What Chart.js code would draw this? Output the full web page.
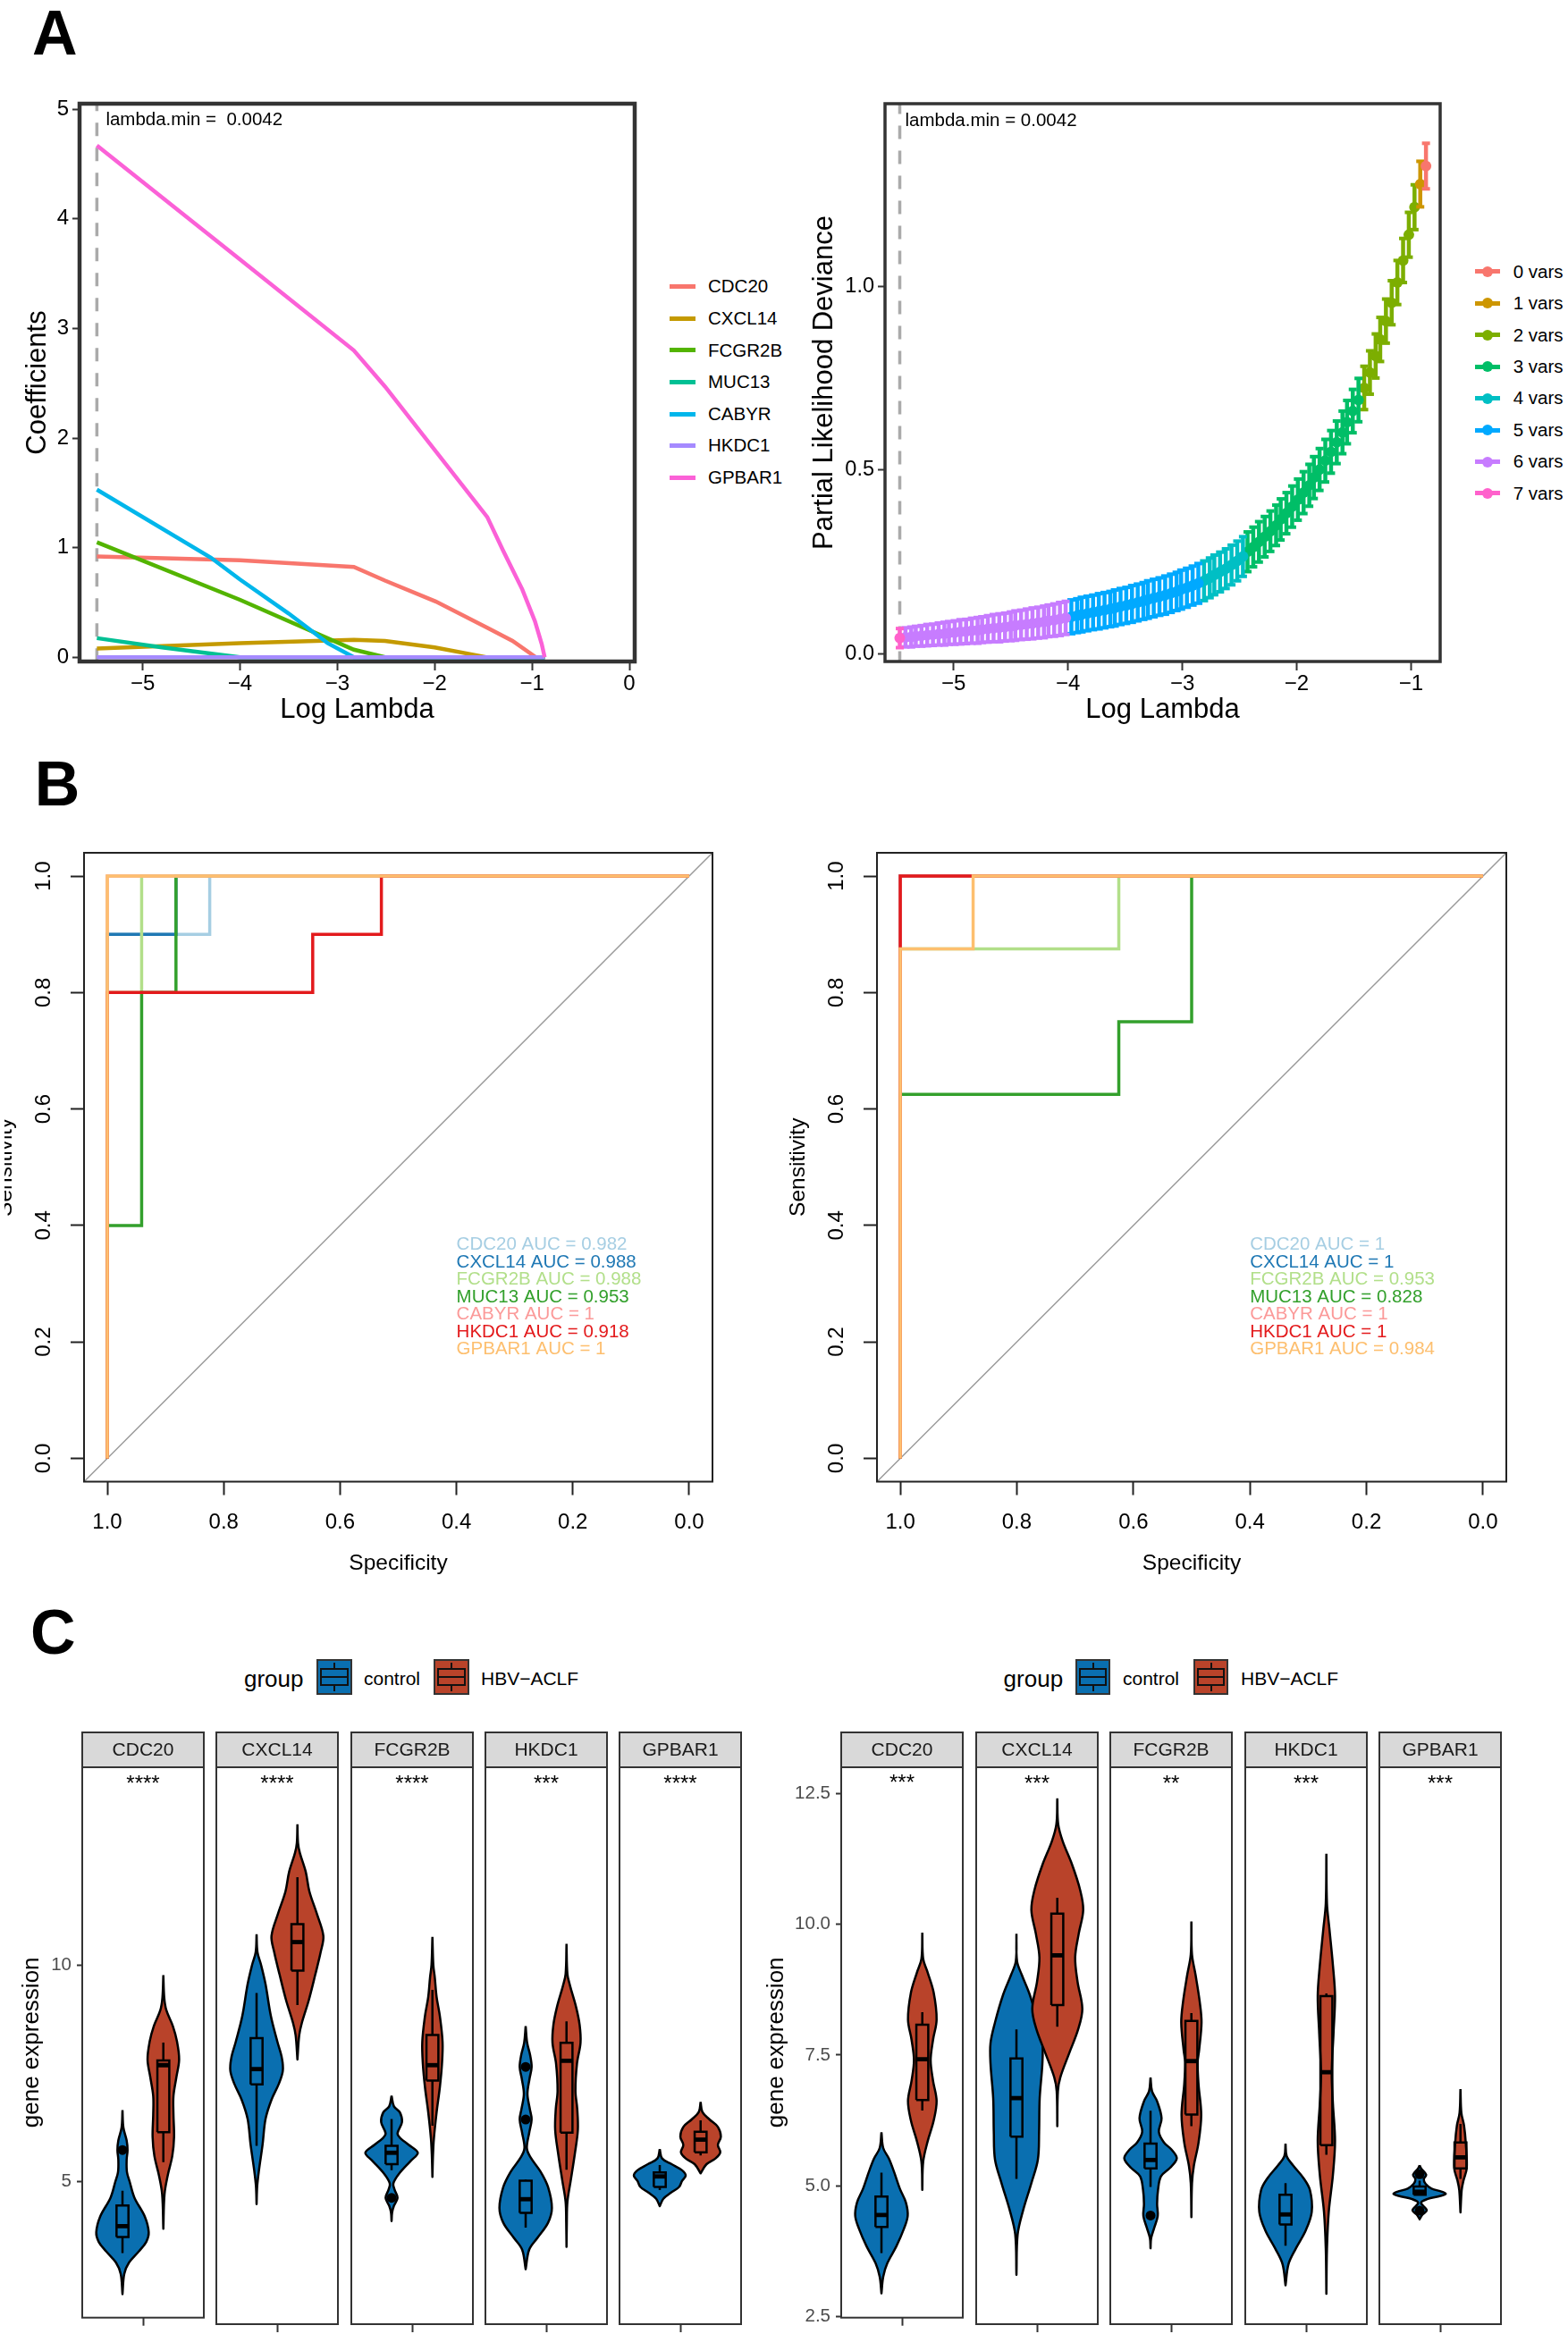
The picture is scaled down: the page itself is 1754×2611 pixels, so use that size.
<!DOCTYPE html>
<html>
<head>
<meta charset="utf-8">
<title>Gene signature panels</title>
<script src="https://cdn.jsdelivr.net/npm/chart.js@4/dist/chart.umd.js"></script>
<style>
html, body { margin: 0; background: #fff; }
#page { position: relative; width: 1754px; height: 2611px; overflow: hidden; background: #fff;
  font-family: "Liberation Sans", Arial, sans-serif; color: #000; }
canvas { position: absolute; }
.txt { position: absolute; white-space: pre; line-height: 1; }
.shape { position: absolute; box-sizing: border-box; }
</style>
</head>
<body>
<div id="page"></div>
<script>
// ---- Panel A, coefficient paths
var coefGenes = ["CDC20", "CXCL14", "FCGR2B", "MUC13", "CABYR", "HKDC1", "GPBAR1"];
var coefColors = ["#F8766D", "#C49A00", "#53B400", "#00C094", "#00B6EB", "#A58AFF", "#FB61D7"];
var cdc20CoefX = [-5.47, -4, -2.83, -2.51, -1.99, -1.46, -1.2, -0.96, -0.87];
var cdc20CoefY = [0.92, 0.885, 0.825, 0.7, 0.51, 0.27, 0.15, 0, 0];
var cxcl14CoefX = [-5.47, -4, -2.83, -2.51, -2, -1.46, -0.87];
var cxcl14CoefY = [0.08, 0.13, 0.16, 0.15, 0.09, 0, 0];
var fcgr2bCoefX = [-5.47, -4, -2.83, -2.5, -0.87];
var fcgr2bCoefY = [1.05, 0.525, 0.07, 0, 0];
var muc13CoefX = [-5.47, -4.8, -4, -0.87];
var muc13CoefY = [0.175, 0.09, 0, 0];
var cabyrCoefX = [-5.47, -4.3, -4, -3.5, -3.1, -2.83, -0.87];
var cabyrCoefY = [1.53, 0.91, 0.71, 0.4, 0.13, 0, 0];
var hkdc1CoefX = [-5.47, -0.87];
var hkdc1CoefY = [0, 0];
var gpbar1CoefX = [-5.47, -4, -2.83, -2.51, -1.46, -1.3, -1.1, -0.97, -0.9, -0.87];
var gpbar1CoefY = [4.67, 3.63, 2.8, 2.47, 1.28, 0.98, 0.62, 0.33, 0.12, 0];
var lambdaMinLog = -5.47;
var coefXTicks = [-5, -4, -3, -2, -1, 0];
var coefXLabels = ["\u22125", "\u22124", "\u22123", "\u22122", "\u22121", "0"];
var coefYTicks = [0, 1, 2, 3, 4, 5];
var coefYLabels = ["0", "1", "2", "3", "4", "5"];

// ---- Panel A, cross validation curve
var cvLogLambda = [-5.47, -5.42, -5.37, -5.33, -5.28, -5.23, -5.18, -5.13, -5.08, -5.04, -4.99, -4.94, -4.89, -4.84, -4.79, -4.75,
  -4.70, -4.65, -4.60, -4.55, -4.50, -4.46, -4.41, -4.36, -4.31, -4.26, -4.21, -4.17, -4.12, -4.07, -4.02,
  -3.97, -3.92, -3.88, -3.83, -3.78, -3.73, -3.68, -3.63, -3.59, -3.54, -3.49, -3.44, -3.39, -3.34, -3.30, -3.25,
  -3.20, -3.15, -3.10, -3.05, -3.01, -2.96, -2.91, -2.86,
  -2.81, -2.76, -2.72, -2.67, -2.62, -2.57, -2.52, -2.47,
  -2.43, -2.38, -2.33, -2.28, -2.23, -2.18, -2.14, -2.09, -2.04, -1.99, -1.94, -1.89, -1.85, -1.80, -1.75, -1.70, -1.65, -1.60, -1.56, -1.51, -1.46,
  -1.41, -1.36, -1.31, -1.27, -1.22, -1.17, -1.12, -1.07, -1.02, -0.97, -0.92, -0.87];
var cvMean = [.042, .044, .045, .047, .048, .050, .051, .053, .054, .056, .057, .059, .060, .062, .063, .065,
  .067, .069, .070, .072, .074, .076, .078, .080, .082, .084, .086, .089, .091, .094, .097,
  .100, .103, .106, .109, .112, .115, .118, .121, .124, .128, .131, .135, .139, .143, .147, .151,
  .155, .159, .164, .169, .174, .179, .185, .191,
  .198, .206, .214, .222, .231, .241, .252, .264,
  .277, .290, .304, .318, .333, .349, .365, .382, .400, .419, .438, .458, .479, .501, .525, .549, .575, .602, .630, .660, .690,
  .723, .765, .810, .855, .905, .955, 1.01, 1.07, 1.14, 1.215, 1.278, 1.327];
var cvSd = [.026, .026, .027, .027, .028, .029, .029, .030, .031, .031, .032, .033, .033, .034, .035, .035,
  .036, .037, .038, .038, .039, .040, .040, .041, .042, .042, .043, .043, .044, .045, .045,
  .046, .046, .047, .047, .047, .048, .048, .048, .049, .049, .049, .050, .050, .050, .051, .051,
  .051, .052, .052, .052, .053, .053, .053, .054,
  .054, .054, .054, .054, .054, .054, .054, .054,
  .054, .054, .055, .055, .055, .055, .056, .056, .056, .056, .057, .057, .057, .057, .058, .058, .058, .058, .059, .059, .059,
  .059, .059, .060, .060, .060, .060, .060, .060, .061, .061, .062, .062];
var cvVarLabels = ["0 vars", "1 vars", "2 vars", "3 vars", "4 vars", "5 vars", "6 vars", "7 vars"];
var cvVarColors = ["#F8766D", "#CD9600", "#7CAE00", "#00BE67", "#00BFC4", "#00A9FF", "#C77CFF", "#FF61CC"];
// how many lambdas each variable count covers, walking from the left end (7 vars) to the right (0 vars)
var cvRunLengths = [1, 30, 24, 8, 21, 10, 1, 1];
var cvPaintOrder = [2, 1, 0, 3, 4, 5, 6, 7];
var cvXTicks = [-5, -4, -3, -2, -1];
var cvXLabels = ["\u22125", "\u22124", "\u22123", "\u22122", "\u22121"];
var cvYTicks = [0, 0.5, 1];
var cvYLabels = ["0.0", "0.5", "1.0"];

// ---- Panel B, ROC curves as [specificity, sensitivity] step paths
var rocGenes = ["CDC20", "CXCL14", "FCGR2B", "MUC13", "CABYR", "HKDC1", "GPBAR1"];
var rocColors = ["#A6CEE3", "#1F78B4", "#B2DF8A", "#33A02C", "#FB9A99", "#E31A1C", "#FDBF6F"];
var rocLeftAuc = ["0.982", "0.988", "0.988", "0.953", "1", "0.918", "1"];
var rocRightAuc = ["1", "1", "0.953", "0.828", "1", "1", "0.984"];
var rocLeftCdc20 = [[1, 0], [1, 0.9], [0.824, 0.9], [0.824, 1], [0, 1]];
var rocLeftCxcl14 = [[1, 0], [1, 0.9], [0.882, 0.9], [0.882, 1], [0, 1]];
var rocLeftFcgr2b = [[1, 0], [1, 0.8], [0.941, 0.8], [0.941, 1], [0, 1]];
var rocLeftMuc13 = [[1, 0], [1, 0.4], [0.941, 0.4], [0.941, 0.8], [0.882, 0.8], [0.882, 1], [0, 1]];
var rocLeftCabyr = [[1, 0], [1, 1], [0, 1]];
var rocLeftHkdc1 = [[1, 0], [1, 0.8], [0.647, 0.8], [0.647, 0.9], [0.529, 0.9], [0.529, 1], [0, 1]];
var rocLeftGpbar1 = [[1, 0], [1, 1], [0, 1]];
var rocRightCdc20 = [[1, 0], [1, 1], [0, 1]];
var rocRightCxcl14 = [[1, 0], [1, 1], [0, 1]];
var rocRightFcgr2b = [[1, 0], [1, 0.875], [0.625, 0.875], [0.625, 1], [0, 1]];
var rocRightMuc13 = [[1, 0], [1, 0.625], [0.625, 0.625], [0.625, 0.75], [0.5, 0.75], [0.5, 1], [0, 1]];
var rocRightCabyr = [[1, 0], [1, 1], [0, 1]];
var rocRightHkdc1 = [[1, 0], [1, 1], [0, 1]];
var rocRightGpbar1 = [[1, 0], [1, 0.875], [0.875, 0.875], [0.875, 1], [0, 1]];
var rocTicks = [0, 0.2, 0.4, 0.6, 0.8, 1];
var rocTickLabels = ["0.0", "0.2", "0.4", "0.6", "0.8", "1.0"];
var rocDiagonal = [[1.04, -0.04], [-0.04, 1.04]];
var rocLabelX = 0.4;
var rocLabelY = [0.37, 0.34, 0.31, 0.28, 0.25, 0.22, 0.19];

// ---- Panel C, violins: expression levels (Y), density widths (W), box = [low, q1, median, q3, high], outliers (Out)
var lCdc20CtrlY = [6.65, 6.25, 5.95, 5.73, 5.51, 5.22, 5.0, 4.63, 4.19, 3.83, 3.61, 3.39, 3.13, 2.87, 2.40];
var lCdc20CtrlW = [0, 3, 14, 17, 14, 15, 24, 40, 75, 88, 80, 55, 22, 6, 0];
var lCdc20CtrlBox = [3.35, 3.72, 3.97, 4.45, 4.79];
var lCdc20CtrlOut = [5.73];
var lCdc20AclfY = [9.77, 9.25, 8.96, 8.59, 8.23, 7.82, 7.42, 6.98, 6.54, 6.03, 5.59, 5.15, 4.71, 3.91];
var lCdc20AclfW = [0, 3, 10, 32, 46, 53, 44, 34, 34, 36, 30, 15, 4, 0];
var lCdc20AclfBox = [5.45, 6.14, 7.69, 7.80, 8.21];
var lCxcl14CtrlY = [10.76, 10.35, 10.06, 9.62, 8.89, 8.30, 7.93, 7.64, 7.35, 6.98, 6.54, 5.95, 5.37, 5.0, 4.60];
var lCxcl14CtrlW = [0, 3, 15, 30, 48, 70, 85, 88, 75, 50, 30, 20, 8, 2, 0];
var lCxcl14CtrlBox = [5.93, 7.33, 7.68, 8.39, 9.42];
var lCxcl14AclfY = [13.27, 12.84, 12.62, 12.18, 11.74, 11.23, 10.72, 10.35, 9.84, 9.25, 8.74, 8.45, 7.90];
var lCxcl14AclfW = [0, 2, 8, 28, 40, 65, 87, 78, 60, 38, 15, 6, 0];
var lCxcl14AclfBox = [9.14, 9.93, 10.58, 10.99, 12.06];
var lFcgr2bCtrlY = [7.07, 6.83, 6.69, 6.47, 6.21, 6.10, 5.95, 5.77, 5.59, 5.29, 5.07, 4.93, 4.74, 4.56, 4.41, 4.21];
var lFcgr2bCtrlW = [0, 8, 28, 35, 20, 30, 58, 88, 65, 25, 6, 10, 20, 8, 2, 0];
var lFcgr2bCtrlBox = [5.37, 5.51, 5.77, 5.93, 6.54];
var lFcgr2bCtrlOut = [4.74];
var lFcgr2bAclfY = [10.70, 10.06, 9.77, 9.33, 8.89, 8.30, 7.79, 7.27, 6.69, 6.10, 5.73, 5.22];
var lFcgr2bAclfW = [0, 3, 8, 14, 25, 34, 32, 25, 14, 5, 2, 0];
var lFcgr2bAclfBox = [6.39, 7.42, 7.77, 8.46, 9.49];
var lHkdc1CtrlY = [8.66, 8.28, 8.0, 7.73, 7.46, 7.11, 6.77, 6.53, 6.23, 5.88, 5.68, 5.34, 4.99, 4.51, 4.17, 3.83, 3.56, 3.11];
var lHkdc1CtrlW = [0, 5, 15, 20, 13, 6, 14, 20, 12, 4, 15, 50, 75, 88, 75, 40, 12, 0];
var lHkdc1CtrlBox = [4.06, 4.40, 4.71, 5.13, 5.16];
var lHkdc1CtrlOut = [7.73, 6.53];
var lHkdc1AclfY = [10.54, 9.85, 9.58, 9.10, 8.69, 8.28, 7.80, 7.18, 6.77, 6.29, 5.75, 5.13, 4.65, 4.17, 3.62];
var lHkdc1AclfW = [0, 3, 12, 32, 44, 47, 35, 30, 36, 38, 28, 14, 3, 1, 0];
var lHkdc1AclfBox = [5.38, 6.23, 7.87, 8.28, 8.77];
var lGpbar1CtrlY = [5.85, 5.64, 5.51, 5.37, 5.25, 5.13, 4.99, 4.86, 4.72, 4.55];
var lGpbar1CtrlW = [0, 8, 40, 75, 87, 75, 65, 38, 12, 0];
var lGpbar1CtrlBox = [4.92, 4.99, 5.23, 5.32, 5.49];
var lGpbar1AclfY = [6.93, 6.70, 6.53, 6.36, 6.14, 5.95, 5.78, 5.64, 5.51, 5.30];
var lGpbar1AclfW = [0, 6, 30, 58, 68, 58, 66, 50, 20, 0];
var lGpbar1AclfBox = [5.71, 5.78, 6.07, 6.25, 6.51];

var rCdc20CtrlY = [6.02, 5.72, 5.52, 5.27, 4.94, 4.68, 4.42, 4.17, 3.84, 3.52, 3.26, 2.94];
var rCdc20CtrlW = [0, 6, 25, 42, 62, 82, 88, 75, 50, 20, 6, 0];
var rCdc20CtrlBox = [3.71, 4.21, 4.44, 4.79, 5.25];
var rCdc20AclfY = [9.84, 9.34, 9.08, 8.70, 8.18, 7.79, 7.40, 7.01, 6.62, 6.24, 5.85, 5.46, 4.92];
var rCdc20AclfW = [0, 3, 18, 38, 48, 36, 28, 36, 48, 38, 18, 3, 0];
var rCdc20AclfBox = [6.44, 6.64, 7.42, 8.08, 8.32];
var rCxcl14CtrlY = [9.86, 9.34, 9.08, 8.70, 8.18, 7.79, 7.40, 6.75, 6.11, 5.59, 5.14, 4.62, 4.17, 3.41];
var rCxcl14CtrlW = [0, 2, 18, 45, 72, 87, 87, 78, 76, 72, 50, 22, 4, 0];
var rCxcl14CtrlBox = [5.22, 6.02, 6.75, 7.50, 8.05];
var rCxcl14AclfY = [12.42, 11.93, 11.61, 11.16, 10.70, 10.31, 9.86, 9.41, 8.95, 8.44, 8.05, 7.60, 7.14, 6.88, 6.22];
var rCxcl14AclfW = [0, 3, 18, 50, 76, 87, 72, 60, 68, 84, 70, 40, 10, 2, 0];
var rCxcl14AclfBox = [8.10, 8.51, 9.45, 10.24, 10.54];
var rFcgr2bCtrlY = [7.14, 6.88, 6.69, 6.37, 6.11, 5.91, 5.78, 5.61, 5.43, 5.27, 5.01, 4.75, 4.52, 4.29, 4.10, 3.91];
var rFcgr2bCtrlW = [0, 5, 22, 37, 28, 45, 70, 88, 65, 35, 25, 22, 24, 12, 2, 0];
var rFcgr2bCtrlBox = [5.07, 5.42, 5.58, 5.89, 6.51];
var rFcgr2bCtrlOut = [4.53];
var rFcgr2bAclfY = [10.09, 9.47, 9.08, 8.57, 8.18, 7.66, 7.43, 7.01, 6.43, 5.91, 5.46, 5.14, 4.50];
var rFcgr2bAclfW = [0, 2, 14, 28, 34, 26, 21, 24, 33, 24, 8, 2, 0];
var rFcgr2bAclfBox = [6.22, 6.44, 7.45, 8.21, 8.36];
var rHkdc1CtrlY = [5.89, 5.65, 5.48, 5.24, 5.01, 4.60, 4.25, 3.91, 3.61, 3.21];
var rHkdc1CtrlW = [0, 4, 25, 60, 82, 88, 68, 35, 10, 0];
var rHkdc1CtrlBox = [3.96, 4.36, 4.55, 4.92, 5.14];
var rHkdc1AclfY = [11.37, 10.43, 9.96, 9.26, 8.68, 7.98, 7.22, 6.64, 5.94, 5.30, 4.60, 3.91, 3.05];
var rHkdc1AclfW = [0, 2, 10, 22, 29, 24, 18, 22, 29, 22, 8, 2, 0];
var rHkdc1AclfBox = [5.68, 5.86, 7.24, 8.68, 8.73];
var rGpbar1CtrlY = [5.48, 5.42, 5.30, 5.22, 5.13, 5.04, 4.98, 4.94, 4.90, 4.84, 4.77, 4.63, 4.55, 4.46];
var rGpbar1CtrlW = [0, 5, 22, 14, 20, 40, 75, 88, 70, 25, 5, 24, 10, 0];
var rGpbar1CtrlBox = [4.92, 4.92, 4.98, 5.08, 5.19];
var rGpbar1CtrlOut = [5.31, 4.62];
var rGpbar1AclfY = [6.92, 6.47, 6.23, 5.89, 5.42, 5.19, 5.01, 4.59];
var rGpbar1AclfW = [0, 3, 12, 18, 21, 10, 4, 0];
var rGpbar1AclfBox = [5.22, 5.42, 5.63, 5.91, 6.26];

var facetGenes = ["CDC20", "CXCL14", "FCGR2B", "HKDC1", "GPBAR1"];
var leftStars = ["****", "****", "****", "***", "****"];
var rightStars = ["***", "***", "**", "***", "***"];
var leftYTicks = [5, 10];
var leftYLabels = ["5", "10"];
var rightYTicks = [2.5, 5, 7.5, 10, 12.5];
var rightYLabels = ["2.5", "5.0", "7.5", "10.0", "12.5"];
var groupNames = ["control", "HBV\u2212ACLF"];
var groupColors = ["#0A6FB0", "#B9432A"];

var WIDTH_UNIT = 408;
var CTRL_POS = 0.331;
var ACLF_POS = 0.667;
var BOX_HALF = 0.049;
var STRIP_HEIGHT = 39;

Chart.defaults.font.family = '"Liberation Sans", Arial, sans-serif';
Chart.defaults.color = "#000";

var page = document.getElementById("page");

function addText(text, left, centerY, size, color, weight) {
    var el = document.createElement("div");
    el.className = "txt";
    el.textContent = text;
    el.style.left = left + "px";
    el.style.top = (centerY - size / 2) + "px";
    el.style.fontSize = size + "px";
    el.style.color = color || "#000";
    if (weight) {
        el.style.fontWeight = weight;
    }
    page.appendChild(el);
}

function addShape(left, top, width, height, css) {
    var el = document.createElement("div");
    el.className = "shape";
    el.style.left = left + "px";
    el.style.top = top + "px";
    el.style.width = width + "px";
    el.style.height = height + "px";
    Object.keys(css).forEach(function (k) { el.style[k] = css[k]; });
    page.appendChild(el);
}

function toPoints(xs, ys) {
    return xs.map(function (x, i) { return { x: x, y: ys[i] }; });
}

function pairsToPoints(pairs) {
    return pairs.map(function (p) { return { x: p[0], y: p[1] }; });
}

function lineSet(points, color, width, extra) {
    var ds = {
        data: points,
        showLine: true,
        borderColor: color,
        borderWidth: width,
        pointRadius: 0,
        fill: false,
        tension: 0,
    };
    return Object.assign(ds, extra || {});
}

// frame round the plot area, then any free labels in data coordinates
function framePlugin(color, width) {
    return {
        id: "frame",
        afterDraw: function (chart) {
            var a = chart.chartArea;
            var ctx = chart.ctx;
            ctx.save();
            ctx.strokeStyle = color;
            ctx.lineWidth = width;
            ctx.strokeRect(a.left, a.top, a.right - a.left, a.bottom - a.top);
            ctx.restore();
        },
    };
}

function notesPlugin(notes) {
    return {
        id: "notes",
        afterDraw: function (chart) {
            var ctx = chart.ctx;
            ctx.save();
            notes.forEach(function (n) {
                ctx.font = n.size + 'px "Liberation Sans", Arial, sans-serif';
                ctx.fillStyle = n.color || "#000";
                ctx.textAlign = n.align || "left";
                ctx.textBaseline = "middle";
                ctx.fillText(n.text, chart.scales.x.getPixelForValue(n.x) + (n.dx || 0),
                    chart.scales.y.getPixelForValue(n.y) + (n.dy || 0));
            });
            ctx.restore();
        },
    };
}

function stripPlugin(label) {
    return {
        id: "strip",
        afterDraw: function (chart) {
            var a = chart.chartArea;
            var ctx = chart.ctx;
            var stripTop = a.top - STRIP_HEIGHT;
            ctx.save();
            ctx.fillStyle = "#D9D9D9";
            ctx.strokeStyle = "#333";
            ctx.lineWidth = 2;
            ctx.fillRect(a.left, stripTop, a.right - a.left, STRIP_HEIGHT);
            ctx.strokeRect(a.left, stripTop, a.right - a.left, STRIP_HEIGHT);
            ctx.fillStyle = "#1A1A1A";
            ctx.font = '21px "Liberation Sans", Arial, sans-serif';
            ctx.textAlign = "center";
            ctx.textBaseline = "middle";
            ctx.fillText(label, (a.left + a.right) / 2, stripTop + STRIP_HEIGHT / 2 + 1);
            ctx.restore();
        },
    };
}

// linear axis with its plot-edge fixed by afterFit, so every panel lands where the figure has it
function axis(o) {
    var lineH = (o.titleSize || 0) * 1.2;
    var scale = {
        type: "linear",
        min: o.min,
        max: o.max,
        reverse: !!o.reverse,
        afterBuildTicks: function (s) {
            s.ticks = o.ticks.map(function (v) { return { value: v }; });
        },
        afterFit: function (s) {
            if (s.isHorizontal()) {
                s.height = o.band;
            } else {
                s.width = o.band;
            }
        },
        border: { display: false },
        grid: {
            display: o.ticks.length > 0,
            drawOnChartArea: false,
            drawTicks: true,
            tickLength: o.tickLength || 8,
            tickWidth: o.tickWidth || 2,
            tickColor: o.tickColor || "#222",
            color: o.tickColor || "#222",
        },
        ticks: {
            display: !!o.labels,
            autoSkip: false,
            maxRotation: o.rotation || 0,
            minRotation: o.rotation || 0,
            crossAlign: o.rotation ? "center" : "near",
            padding: o.labelPad || 0,
            color: o.labelColor || "#000",
            font: { size: o.labelSize || 24 },
            callback: function (v, i) { return o.labels ? o.labels[i] : ""; },
        },
        title: { display: false },
    };
    if (o.title) {
        scale.title = {
            display: true,
            text: o.title,
            color: "#000",
            font: { size: o.titleSize },
            padding: { top: o.titleAt - lineH / 2, bottom: o.titleAt - lineH / 2 },
        };
    }
    return scale;
}

function addChart(area, plot, datasets, xOpts, yOpts, plugins) {
    var canvas = document.createElement("canvas");
    canvas.width = area[2] - area[0];
    canvas.height = area[3] - area[1];
    canvas.style.left = area[0] + "px";
    canvas.style.top = area[1] + "px";
    canvas.style.width = canvas.width + "px";
    canvas.style.height = canvas.height + "px";
    page.appendChild(canvas);
    xOpts.band = area[3] - plot[3];
    yOpts.band = plot[0] - area[0];
    return new Chart(canvas, {
        type: "scatter",
        // Chart.js paints the first dataset last
        data: { datasets: datasets.slice().reverse() },
        options: {
            responsive: false,
            animation: false,
            devicePixelRatio: 1,
            layout: {
                autoPadding: false,
                padding: { left: 0, bottom: 0, top: plot[1] - area[1], right: area[2] - plot[2] },
            },
            plugins: { legend: { display: false }, tooltip: { enabled: false } },
            scales: { x: axis(xOpts), y: axis(yOpts) },
        },
        plugins: plugins,
    });
}

// ---- Panel A charts
function drawCoefPanel() {
    var series = [
        toPoints(cdc20CoefX, cdc20CoefY), toPoints(cxcl14CoefX, cxcl14CoefY), toPoints(fcgr2bCoefX, fcgr2bCoefY),
        toPoints(muc13CoefX, muc13CoefY), toPoints(cabyrCoefX, cabyrCoefY), toPoints(hkdc1CoefX, hkdc1CoefY),
        toPoints(gpbar1CoefX, gpbar1CoefY),
    ];
    var sets = [lineSet([{ x: lambdaMinLog, y: -0.04 }, { x: lambdaMinLog, y: 5.06 }], "#AAAAAA", 3.5, { borderDash: [15, 13] })];
    series.forEach(function (pts, i) {
        sets.push(lineSet(pts, coefColors[i], 4.5));
    });
    addChart([0, 60, 735, 817], [89, 116, 710, 740], sets,
        { min: -5.648, max: 0.055, ticks: coefXTicks, labels: coefXLabels, labelSize: 24, labelPad: 1, tickLength: 10, tickColor: "#333",
            title: "Log Lambda", titleSize: 31, titleAt: 23 },
        { min: -0.038, max: 5.051, ticks: coefYTicks, labels: coefYLabels, labelSize: 24, labelPad: 4, tickLength: 8, tickColor: "#333",
            title: "Coefficients", titleSize: 31, titleAt: 42 },
        [framePlugin("#333", 4.5), notesPlugin([{ text: "lambda.min =  0.0042", x: lambdaMinLog, y: 4.9, dx: 10, size: 20.5 }])]);

    coefGenes.forEach(function (gene, i) {
        var rowY = 320.6 + i * 35.6;
        addShape(749, rowY - 2.5, 29, 5, { background: coefColors[i] });
        addText(gene, 792, rowY, 20.5);
    });
}

function drawCvPanel() {
    var groups = [];
    var start = 0;
    cvRunLengths.forEach(function (len, runIdx) {
        var bars = [];
        var means = [];
        for (var i = start; i < start + len; i++) {
            bars.push({ x: cvLogLambda[i], y: cvMean[i] - cvSd[i] });
            bars.push({ x: cvLogLambda[i], y: cvMean[i] + cvSd[i] });
            bars.push({ x: cvLogLambda[i], y: null });
            means.push({ x: cvLogLambda[i], y: cvMean[i] });
        }
        groups[7 - runIdx] = { bars: bars, means: means };
        start += len;
    });
    var sets = [lineSet([{ x: lambdaMinLog, y: -0.03 }, { x: lambdaMinLog, y: 1.52 }], "#AAAAAA", 3.5, { borderDash: [15, 13] })];
    cvPaintOrder.forEach(function (v) {
        var color = cvVarColors[v];
        sets.push(lineSet(groups[v].bars, color, 4.5, {
            spanGaps: false,
            pointStyle: "line",
            pointRadius: 4.5,
            pointBorderWidth: 4,
            pointBorderColor: color,
        }));
        sets.push({ data: groups[v].means, pointRadius: 6, pointBackgroundColor: color, pointBorderWidth: 0 });
    });
    addChart([880, 60, 1635, 817], [990, 116, 1611, 740], sets,
        { min: -5.599, max: -0.746, ticks: cvXTicks, labels: cvXLabels, labelSize: 24, labelPad: 1, tickLength: 10, tickColor: "#333",
            title: "Log Lambda", titleSize: 31, titleAt: 23 },
        { min: -0.0217, max: 1.4968, ticks: cvYTicks, labels: cvYLabels, labelSize: 23.5, labelPad: 4, tickLength: 8, tickColor: "#333",
            title: "Partial Likelihood Deviance", titleSize: 31, titleAt: 42 },
        [framePlugin("#333", 3.5), notesPlugin([{ text: "lambda.min = 0.0042", x: lambdaMinLog, y: 1.45, dx: 6, size: 20.5 }])]);

    cvVarLabels.forEach(function (label, i) {
        var rowY = 303.9 + i * 35.44;
        addShape(1650, rowY - 2.5, 28, 5, { background: cvVarColors[i] });
        addShape(1658, rowY - 6, 12, 12, { background: cvVarColors[i], borderRadius: "50%" });
        addText(label, 1692.7, rowY, 20.5);
    });
}

// ---- Panel B charts
function drawRocPanel(area, plot, paths, aucs, titleAt) {
    var sets = [lineSet(pairsToPoints(rocDiagonal), "#9A9A9A", 1.5)];
    paths.forEach(function (p, i) {
        sets.push(lineSet(pairsToPoints(p), rocColors[i], 3.5));
    });
    var notes = rocGenes.map(function (gene, i) {
        return { text: gene + " AUC = " + aucs[i], x: rocLabelX, y: rocLabelY[i], dy: 2, size: 20.5, color: rocColors[i] };
    });
    addChart(area, plot, sets,
        { min: -0.04, max: 1.04, reverse: true, ticks: rocTicks, labels: rocTickLabels, labelSize: 24, labelPad: 16, tickLength: 15,
            title: "Specificity", titleSize: 24.5, titleAt: 14.7 },
        { min: -0.04, max: 1.04, ticks: rocTicks, labels: rocTickLabels, labelSize: 24, labelPad: 13, tickLength: 15, rotation: 90,
            title: "Sensitivity", titleSize: 24.5, titleAt: titleAt },
        [framePlugin("#222", 2), notesPlugin(notes)]);
}

// ---- Panel C charts
function violinSets(pos, color, ys, ws, box, outliers) {
    var out = [];
    var i;
    for (i = 0; i < ys.length; i++) {
        out.push({ x: pos + ws[i] / WIDTH_UNIT, y: ys[i] });
    }
    for (i = ys.length - 1; i >= 0; i--) {
        out.push({ x: pos - ws[i] / WIDTH_UNIT, y: ys[i] });
    }
    var sets = [lineSet(out, "#000", 2.5, { fill: "shape", backgroundColor: color, tension: 0.35, borderJoinStyle: "round" })];
    sets.push(lineSet([
        { x: pos, y: box[0] }, { x: pos, y: box[1] }, { x: pos, y: null },
        { x: pos, y: box[3] }, { x: pos, y: box[4] },
    ], "#000", 2.5, { spanGaps: false }));
    sets.push(lineSet([
        { x: pos - BOX_HALF, y: box[1] }, { x: pos + BOX_HALF, y: box[1] }, { x: pos + BOX_HALF, y: box[3] },
        { x: pos - BOX_HALF, y: box[3] }, { x: pos - BOX_HALF, y: box[1] },
    ], "#000", 2.5));
    sets.push(lineSet([{ x: pos - BOX_HALF, y: box[2] }, { x: pos + BOX_HALF, y: box[2] }], "#000", 4.8));
    if (outliers && outliers.length) {
        sets.push({
            data: outliers.map(function (v) { return { x: pos, y: v }; }),
            pointRadius: 5.5,
            pointBackgroundColor: "#000",
            pointBorderWidth: 0,
        });
    }
    return sets;
}

function drawFacet(o) {
    var sets = violinSets(CTRL_POS, groupColors[0], o.ctrl[0], o.ctrl[1], o.ctrl[2], o.ctrl[3])
        .concat(violinSets(ACLF_POS, groupColors[1], o.aclf[0], o.aclf[1], o.aclf[2], o.aclf[3]));
    var yOpts = { min: o.min, max: o.max, ticks: [] };
    if (o.yTicks) {
        yOpts = { min: o.min, max: o.max, ticks: o.yTicks, labels: o.yLabels, labelSize: 20.5, labelPad: 6, tickLength: 6, tickColor: "#333",
            labelColor: "#4D4D4D", title: "gene expression", titleSize: 26, titleAt: o.titleAt };
    }
    var area = [o.left, 1930, o.plot[2] + 3, 2611];
    addChart(area, o.plot, sets,
        { min: 0, max: 1, ticks: [0.5], tickLength: 9, tickColor: "#333" },
        yOpts,
        [framePlugin("#333", 2), stripPlugin(o.gene),
            notesPlugin([{ text: o.stars, x: 0.5, y: o.starY, dy: 5, size: 24, align: "center" }])]);
}

function drawGroupLegend(groupX, key1, label1, key2, label2, keyW) {
    addText("group", groupX, 1877.6, 26);
    [key1, key2].forEach(function (kx, i) {
        addShape(kx, 1856, keyW, 40, { background: groupColors[i], border: "2px solid #333" });
        addShape(kx + 4, 1866, keyW - 8, 20, { border: "2px solid #111" });
        addShape(kx + 4, 1875, keyW - 8, 2, { background: "#111" });
        addShape(kx + keyW / 2 - 1, 1860, 2, 6, { background: "#111" });
        addShape(kx + keyW / 2 - 1, 1886, 2, 6, { background: "#111" });
    });
    addText(groupNames[0], label1, 1877, 21);
    addText(groupNames[1], label2, 1877, 21);
}

function drawViolinPanel(plots, firstLeft, otherPad, yTicks, yLabels, min, max, stars, starY, titleAt, violins) {
    facetGenes.forEach(function (gene, i) {
        drawFacet({
            gene: gene,
            stars: stars[i],
            starY: starY,
            left: i === 0 ? firstLeft : plots[i][0] - otherPad,
            plot: plots[i],
            min: min,
            max: max,
            yTicks: i === 0 ? yTicks : null,
            yLabels: i === 0 ? yLabels : null,
            titleAt: titleAt,
            ctrl: violins[i][0],
            aclf: violins[i][1],
        });
    });
}

// panel letters
addText("A", 36, 36.6, 70, "#000", "bold");
addText("B", 38.7, 877, 70, "#000", "bold");
addText("C", 34, 1826, 70, "#000", "bold");

drawCoefPanel();
drawCvPanel();

drawRocPanel([5, 905, 820, 1764], [94, 954, 797, 1657.5],
    [rocLeftCdc20, rocLeftCxcl14, rocLeftFcgr2b, rocLeftMuc13, rocLeftCabyr, rocLeftHkdc1, rocLeftGpbar1], rocLeftAuc, 1);
drawRocPanel([875, 905, 1708, 1764], [981, 954, 1685, 1657.5],
    [rocRightCdc20, rocRightCxcl14, rocRightFcgr2b, rocRightMuc13, rocRightCabyr, rocRightHkdc1, rocRightGpbar1], rocRightAuc, 18);

drawGroupLegend(273, 354, 407, 485, 538, 40);
drawGroupLegend(1122.6, 1203, 1256, 1335, 1388, 39);

drawViolinPanel([[92, 1977, 228, 2600], [242, 1977, 378, 2600], [393, 1977, 529, 2600], [543, 1977, 679, 2600], [693, 1977, 829, 2600]],
    0, 3, leftYTicks, leftYLabels, 1.857, 14.571, leftStars, 14.28, 35.6, [
        [[lCdc20CtrlY, lCdc20CtrlW, lCdc20CtrlBox, lCdc20CtrlOut], [lCdc20AclfY, lCdc20AclfW, lCdc20AclfBox]],
        [[lCxcl14CtrlY, lCxcl14CtrlW, lCxcl14CtrlBox], [lCxcl14AclfY, lCxcl14AclfW, lCxcl14AclfBox]],
        [[lFcgr2bCtrlY, lFcgr2bCtrlW, lFcgr2bCtrlBox, lFcgr2bCtrlOut], [lFcgr2bAclfY, lFcgr2bAclfW, lFcgr2bAclfBox]],
        [[lHkdc1CtrlY, lHkdc1CtrlW, lHkdc1CtrlBox, lHkdc1CtrlOut], [lHkdc1AclfY, lHkdc1AclfW, lHkdc1AclfBox]],
        [[lGpbar1CtrlY, lGpbar1CtrlW, lGpbar1CtrlBox], [lGpbar1AclfY, lGpbar1AclfW, lGpbar1AclfBox]],
    ]);
drawViolinPanel([[941, 1977, 1077, 2600], [1091.5, 1977, 1227.5, 2600], [1242, 1977, 1378, 2600], [1392.5, 1977, 1528.5, 2600], [1543, 1977, 1679, 2600]],
    850, 3, rightYTicks, rightYLabels, 2.475, 13.007, rightStars, 12.77, 19, [
        [[rCdc20CtrlY, rCdc20CtrlW, rCdc20CtrlBox], [rCdc20AclfY, rCdc20AclfW, rCdc20AclfBox]],
        [[rCxcl14CtrlY, rCxcl14CtrlW, rCxcl14CtrlBox], [rCxcl14AclfY, rCxcl14AclfW, rCxcl14AclfBox]],
        [[rFcgr2bCtrlY, rFcgr2bCtrlW, rFcgr2bCtrlBox, rFcgr2bCtrlOut], [rFcgr2bAclfY, rFcgr2bAclfW, rFcgr2bAclfBox]],
        [[rHkdc1CtrlY, rHkdc1CtrlW, rHkdc1CtrlBox], [rHkdc1AclfY, rHkdc1AclfW, rHkdc1AclfBox]],
        [[rGpbar1CtrlY, rGpbar1CtrlW, rGpbar1CtrlBox, rGpbar1CtrlOut], [rGpbar1AclfY, rGpbar1AclfW, rGpbar1AclfBox]],
    ]);
</script>
</body>
</html>
